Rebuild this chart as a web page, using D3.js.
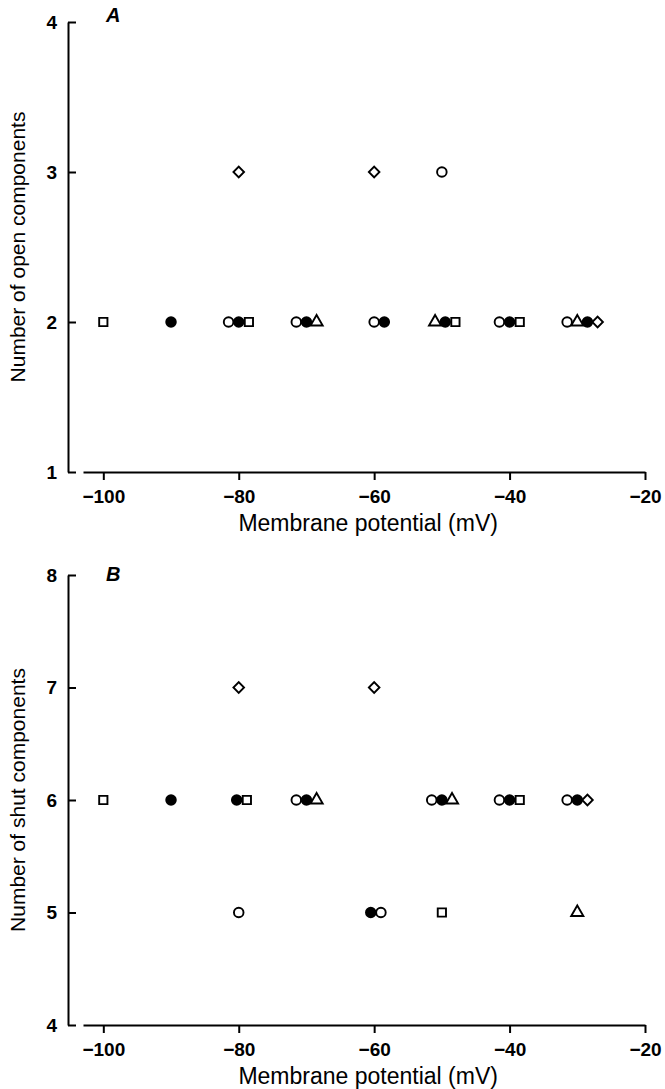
<!DOCTYPE html>
<html>
<head>
<meta charset="utf-8">
<script src="https://cdn.jsdelivr.net/npm/d3@7"></script>
<style>
  body { margin: 0; background: #fff; }
  svg text { font-family: "Liberation Sans", Arial, sans-serif; fill: #000; }
  .tick text { font-size: 19px; font-weight: bold; }
  .tick line, .domain { stroke: #000; stroke-width: 2; }
</style>
</head>
<body>
<svg width="665" height="1089"></svg>
<script>

// Panel A: number of open components
let openV   = [-80, -60, -50,
               -100, -90, -81.5, -80, -78.5, -71.5, -70, -68.5, -60, -58.5,
               -51, -49.5, -48, -41.5, -40, -38.5, -31.5, -30, -28.5, -27];
let openN   = [3, 3, 3,
               2, 2, 2, 2, 2, 2, 2, 2, 2, 2,
               2, 2, 2, 2, 2, 2, 2, 2, 2, 2];
let openSym = ['diamond', 'diamond', 'open',
               'square', 'filled', 'open', 'filled', 'square', 'open', 'filled', 'triangle', 'open', 'filled',
               'triangle', 'filled', 'square', 'open', 'filled', 'square', 'open', 'triangle', 'filled', 'diamond'];

// Panel B: number of shut components
let shutV   = [-80, -60,
               -100, -90, -80.3, -78.8, -71.5, -70, -68.5, -51.5, -50, -48.5,
               -41.5, -40, -38.5, -31.5, -30, -28.5,
               -80, -60.5, -59, -50, -30];
let shutN   = [7, 7,
               6, 6, 6, 6, 6, 6, 6, 6, 6, 6,
               6, 6, 6, 6, 6, 6,
               5, 5, 5, 5, 5];
let shutSym = ['diamond', 'diamond',
               'square', 'filled', 'filled', 'square', 'open', 'filled', 'triangle', 'open', 'filled', 'triangle',
               'open', 'filled', 'square', 'open', 'filled', 'diamond',
               'open', 'filled', 'open', 'square', 'triangle'];

let xTicks = [-100, -80, -60, -40, -20];
let xTitle = 'Membrane potential (mV)';

let svg = d3.select('svg');

let x = d3.scaleLinear()
	.domain([-103, -20])
	.range([83, 645]);

let symbols = {
	open: d3.symbolCircle,
	filled: d3.symbolCircle,
	square: d3.symbolSquare,
	triangle: d3.symbolTriangle,
	diamond: d3.symbolSquare
};
let sizes = { open: 72, filled: 72, square: 68, triangle: 64, diamond: 56 };

function panel(top, bottom, yDomain, vals, counts, syms, yTitle, letter, letterDy) {
	let y = d3.scaleLinear()
		.domain(yDomain)
		.range([bottom, top]);

	let yTicks = d3.range(yDomain[0], yDomain[1] + 1);

	svg.append('g')
		.attr('transform', 'translate(0, ' + bottom + ')')
		.call(d3.axisBottom(x).tickValues(xTicks).tickSize(8).tickSizeOuter(0).tickPadding(9))
		.selectAll('.tick text').attr('dy', '0.75em');

	svg.append('g')
		.attr('transform', 'translate(68, 0)')
		.call(d3.axisLeft(y).tickValues(yTicks).tickSize(-8).tickSizeOuter(0).tickPadding(11).tickFormat(d3.format('d')));

	svg.append('text')
		.attr('x', x(-60) - 6)
		.attr('y', bottom + 59)
		.attr('text-anchor', 'middle')
		.style('font-size', '23px')
		.text(xTitle);

	svg.append('text')
		.attr('transform', 'translate(25, ' + (top + bottom) / 2 + ') rotate(-90)')
		.attr('text-anchor', 'middle')
		.style('font-size', '21px')
		.text(yTitle);

	svg.append('text')
		.attr('x', 106)
		.attr('y', top + letterDy)
		.style('font-size', '20px')
		.style('font-style', 'italic')
		.style('font-weight', 'bold')
		.text(letter);

	svg.append('g')
		.selectAll('path')
		.data(vals.map((v, i) => ({ v: v, n: counts[i], s: syms[i] })))
		.enter()
		.append('path')
		.attr('transform', d => 'translate(' + x(d.v) + ', ' + y(d.n) + ')' + (d.s == 'diamond' ? ' rotate(45)' : ''))
		.attr('d', d => d3.symbol().type(symbols[d.s]).size(sizes[d.s])())
		.attr('fill', d => d.s == 'filled' ? '#000' : '#fff')
		.attr('stroke', '#000')
		.attr('stroke-width', 1.9);
}

panel(22, 472, [1, 4], openV, openN, openSym, 'Number of open components', 'A', 0);
panel(575, 1025, [4, 8], shutV, shutN, shutSym, 'Number of shut components', 'B', 6);

</script>
</body>
</html>
